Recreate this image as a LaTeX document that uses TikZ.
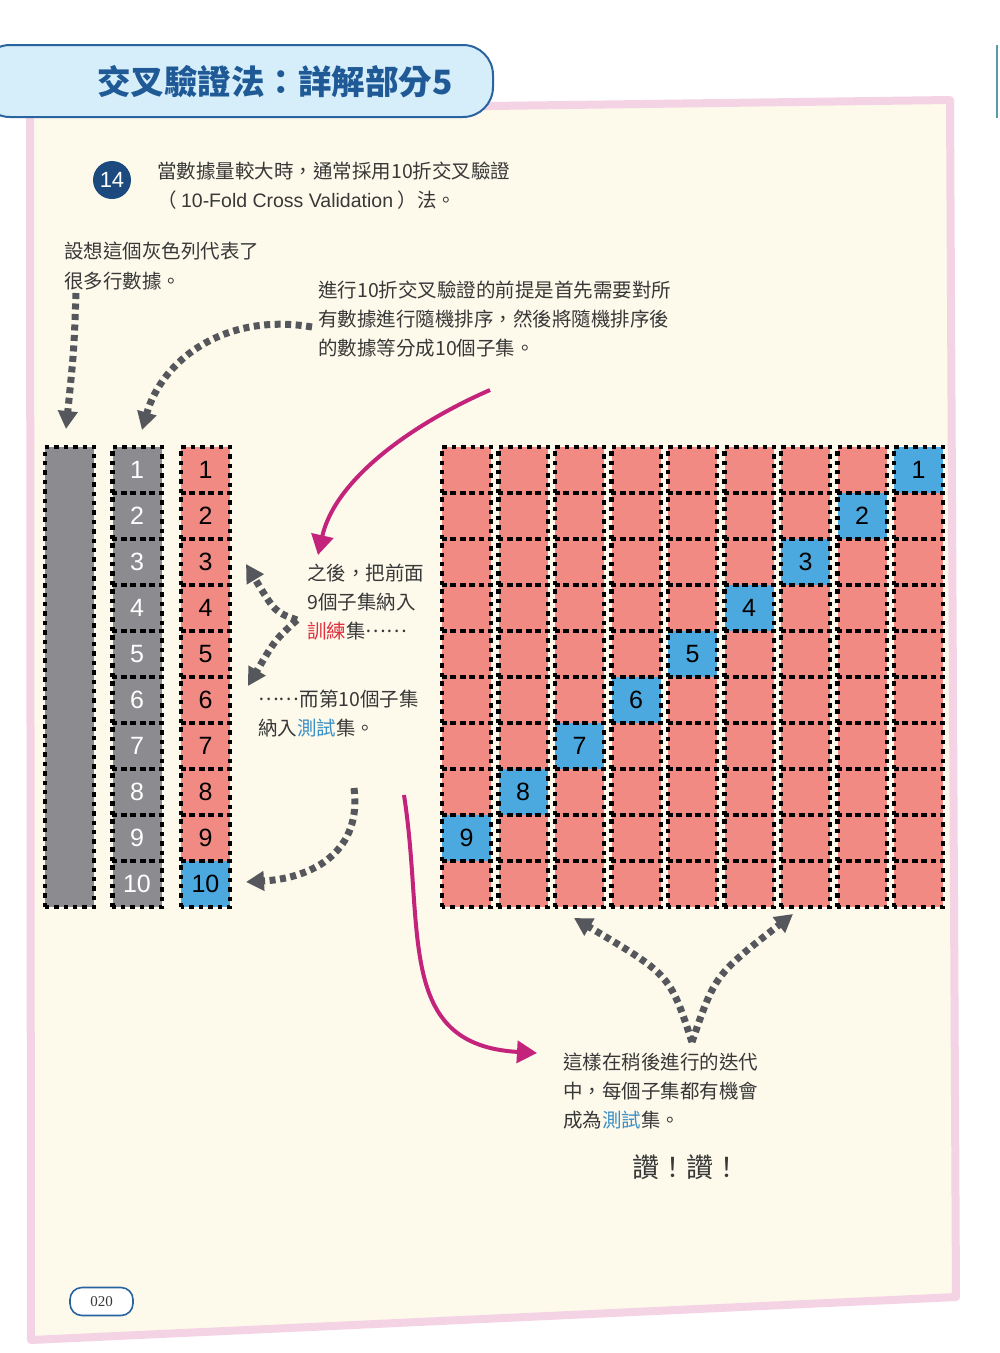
\documentclass[tikz,border=0pt]{standalone}
\usepackage{fontspec}
\newfontfamily\cjk{Noto Sans CJK TC}
\newfontfamily\lsans{Liberation Sans}
\newfontfamily\lserif{Liberation Serif}
\usetikzlibrary{arrows.meta}
\definecolor{cream}{HTML}{FDF9EB}
\definecolor{pinkborder}{HTML}{F4D3E4}
\definecolor{bannerfill}{HTML}{D5EEFA}
\definecolor{bannerline}{HTML}{2A64A0}
\definecolor{titleblue}{HTML}{1F5A96}
\definecolor{circblue}{HTML}{1D4A7E}
\definecolor{bodytext}{HTML}{383838}
\definecolor{graycell}{HTML}{8C8B8F}
\definecolor{pinkcell}{HTML}{F28A84}
\definecolor{bluecell}{HTML}{4BA9DF}
\definecolor{arrowgray}{HTML}{55575C}
\definecolor{magentaarrow}{HTML}{C4237C}
\definecolor{trainred}{HTML}{E0303F}
\definecolor{testblue}{HTML}{3A8FC5}
\definecolor{edgeteal}{HTML}{5B9AA8}
\newcommand\midell{\raisebox{0.32em}{……}}
\tikzset{
  cellfill/.style={minimum width=49pt, minimum height=46pt, inner sep=0pt, draw=none,
    font=\lsans\fontsize{25}{25}\selectfont},
  dotborder/.style={draw=black, line width=4.4pt, dash pattern=on 4.4pt off 5pt},
  grayarrow/.style={draw=arrowgray, line width=7pt, dash pattern=on 6pt off 4.5pt,
    -{Triangle[length=18pt,width=19pt]}},
  magarrow/.style={draw=magentaarrow, line width=4pt,
    -{Triangle[length=20pt,width=22pt]}},
  bodytxt/.style={anchor=west, inner sep=0pt, text=bodytext,
    font=\cjk\fontsize{19.5}{19.5}\selectfont},
}
\begin{document}
\begin{tikzpicture}[x=1pt,y=-1pt]
\useasboundingbox (0,0) rectangle (1000,1353);
\fill[white] (0,0) rectangle (1000,1353);
% page frame
\draw[pinkborder, line width=8pt, fill=cream, line join=round]
  (30,112) -- (950,100) -- (956,1297) -- (31,1340) -- cycle;
% right page edge
\draw[edgeteal, line width=2pt] (997,45) -- (997,118);
% banner
\draw[fill=bannerfill, draw=bannerline, line width=2pt, rounded corners=30pt]
  (-20,45) rectangle (493,117);
\node[font=\cjk\bfseries\fontsize{33.5}{33.5}\selectfont, text=titleblue] (title) at (275,82)
  {交叉驗證法：詳解部分5};
% step number
\node[circle, fill=circblue, minimum size=38pt, inner sep=0pt, text=white,
  font=\lsans\fontsize{22}{22}\selectfont] (num) at (112,180) {14};
\node[bodytxt] (t1) at (157,171) {當數據量較大時，通常採用10折交叉驗證};
\node[bodytxt] (t2) at (157,200) {（ {\lsans 10-Fold Cross Validation} ）法。};
\node[bodytxt] (t3) at (64,251) {設想這個灰色列代表了};
\node[bodytxt] (t4) at (64,281) {很多行數據。};
\node[bodytxt] (t5) at (318,290) {進行10折交叉驗證的前提是首先需要對所};
\node[bodytxt] (t6) at (318,319) {有數據進行隨機排序，然後將隨機排序後};
\node[bodytxt] (t7) at (318,348) {的數據等分成10個子集。};
\node[bodytxt] (t8) at (307,573) {之後，把前面};
\node[bodytxt] (t9) at (307,602) {9個子集納入};
\node[bodytxt] (t10) at (307,631) {{\color{trainred}訓練}集\midell};
\node[bodytxt] (t11) at (258,699) {\midell 而第10個子集};
\node[bodytxt] (t12) at (258,728) {納入{\color{testblue}測試}集。};
\node[bodytxt] (t13) at (563,1062) {這樣在稍後進行的迭代};
\node[bodytxt] (t14) at (563,1091) {中，每個子集都有機會};
\node[bodytxt] (t15) at (563,1120) {成為{\color{testblue}測試}集。};
\node[bodytxt, font=\cjk\fontsize{27}{27}\selectfont] (t16) at (632,1167) {讚！讚！};
% page number
\node[draw=bannerline, line width=1.6pt, rounded corners=12pt, fill=white,
  minimum width=63pt, minimum height=28pt, inner sep=0pt, text=bodytext,
  font=\lserif\fontsize{15}{15}\selectfont] (pg) at (101.5,1301.5) {020};
% big gray column
\node[cellfill, fill=graycell, minimum height=460pt] (col) at (69.5,677) {};
% fills of left columns
\foreach \r in {1,...,10} {
  \node[cellfill, fill=graycell, text=white] (g\r) at (137,{470+46*(\r-1)}) {\r};
  \ifnum\r=10
    \node[cellfill, fill=bluecell, text=black] (p\r) at (205.5,{470+46*(\r-1)}) {\r};
  \else
    \node[cellfill, fill=pinkcell, text=black] (p\r) at (205.5,{470+46*(\r-1)}) {\r};
  \fi
}
% grid fills
\foreach \c in {1,...,9} {
  \foreach \r in {1,...,10} {
    \node[cellfill, fill=pinkcell] (c\c-\r) at ({466.5+56.5*(\c-1)},{470+46*(\r-1)}) {};
  }
}
\foreach \c in {1,...,9} {
  \pgfmathtruncatemacro\k{10-\c}
  \node[cellfill, fill=bluecell, text=black] (b\c) at ({466.5+56.5*(\c-1)},{470+46*(\k-1)}) {\k};
}
% borders
\draw[dotborder] (col.south west) rectangle (col.north east);
\foreach \r in {1,...,10} {
  \draw[dotborder] (g\r.south west) rectangle (g\r.north east);
  \draw[dotborder] (p\r.south west) rectangle (p\r.north east);
}
\foreach \c in {1,...,9} {
  \foreach \r in {1,...,10} {
    \draw[dotborder] (c\c-\r.south west) rectangle (c\c-\r.north east);
  }
}
% gray arrows
\coordinate (a1s) at (76,293);
\coordinate (a1e) at (66,429);
\draw[grayarrow] (a1s) .. controls (74,350) .. (a1e);
\coordinate (a2s) at (312,327);
\coordinate (a2e) at (142,430);
\draw[grayarrow] (a2s) .. controls (225,312) and (162,360) .. (a2e);
\coordinate (a3s) at (297,620);
\coordinate (a3u) at (246,564);
\coordinate (a3d) at (248,686);
\draw[grayarrow] (a3s) .. controls (275,612) .. (a3u);
\draw[grayarrow] (a3s) .. controls (275,640) .. (a3d);
\coordinate (a4s) at (354,788);
\coordinate (a4e) at (246,882);
\draw[grayarrow] (a4s) .. controls (362,850) and (315,878) .. (a4e);
\coordinate (a5s) at (692,1042);
\coordinate (a5l) at (574,918);
\coordinate (a5r) at (793,914);
\draw[grayarrow] (a5s) .. controls (670,975) .. (a5l);
\draw[grayarrow] (a5s) .. controls (715,975) .. (a5r);
% magenta arrows
\coordinate (m1s) at (490,390);
\coordinate (m1e) at (318,555);
\draw[magarrow] (m1s) .. controls (410,425) and (335,480) .. (m1e);
\coordinate (m2s) at (404,795);
\coordinate (m2e) at (537,1053);
\draw[magarrow] (m2s) .. controls (425,930) and (395,1045) .. (m2e);
\end{tikzpicture}
\end{document}
